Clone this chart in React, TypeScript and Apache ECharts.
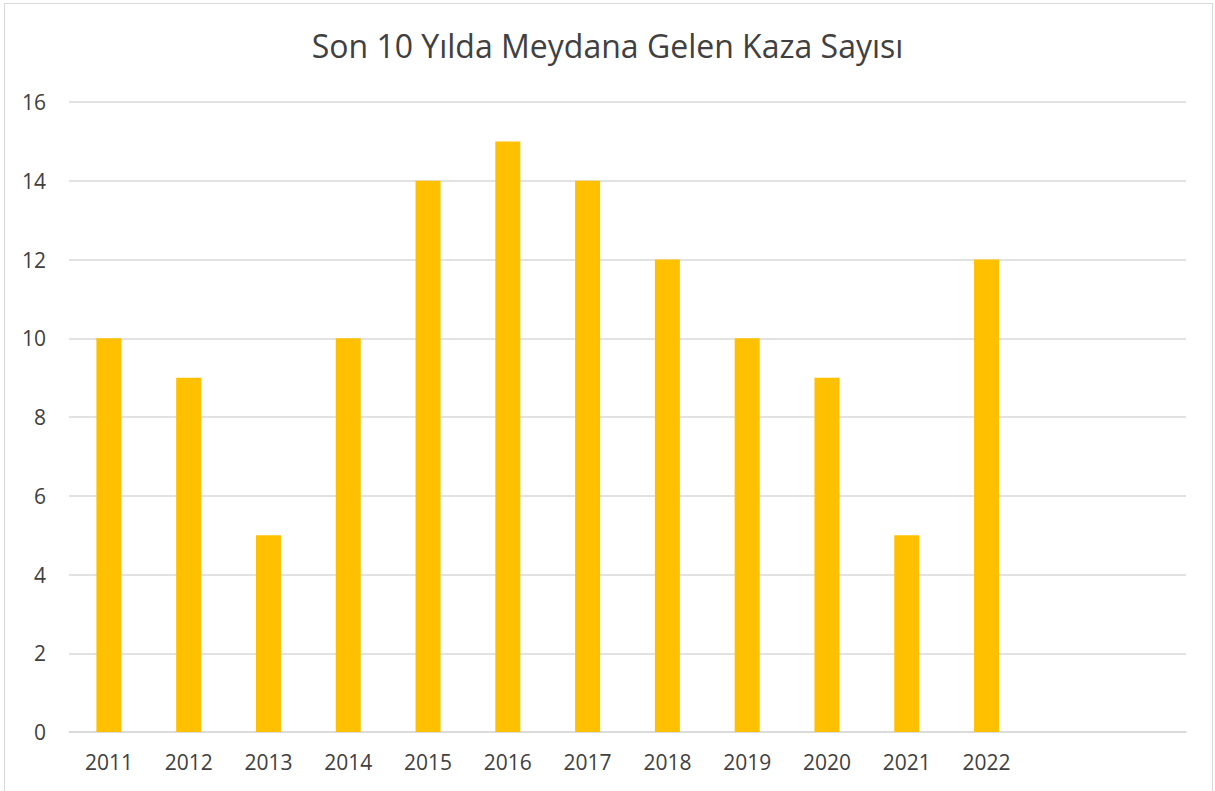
import React, { useEffect, useRef } from "react";
import * as echarts from "echarts";

const title = "Son 10 Yılda Meydana Gelen Kaza Sayısı";
const years = ["2011", "2012", "2013", "2014", "2015", "2016", "2017", "2018", "2019", "2020", "2021", "2022", "", " "];
const accidents: (number | null)[] = [10, 9, 5, 10, 14, 15, 14, 12, 10, 9, 5, 12, null, null];

export default function App() {
  const ref = useRef<HTMLDivElement>(null);
  useEffect(() => {
    if (!ref.current) return;
    const chart = echarts.init(ref.current, undefined, { renderer: "svg" });
    const font = "Open Sans";
    chart.setOption({
      animation: false,
      backgroundColor: "transparent",
      title: {
        text: title,
        left: "center",
        top: 24,
        textStyle: { fontFamily: font, fontSize: 32, fontWeight: "normal", color: "#404040" },
      },
      grid: { left: 69, right: 29, top: 102, bottom: 59, containLabel: false },
      xAxis: {
        type: "category",
        data: years,
        axisLine: { lineStyle: { color: "#d9d9d9", width: 1.5 } },
        axisTick: { show: false },
        axisLabel: { fontFamily: font, fontSize: 21, color: "#404040", margin: 19 },
      },
      yAxis: {
        type: "value",
        min: 0,
        max: 16,
        interval: 2,
        axisLine: { show: false },
        axisTick: { show: false },
        splitLine: { lineStyle: { color: "#d9d9d9", width: 1.5 } },
        axisLabel: { fontFamily: font, fontSize: 21, color: "#404040", margin: 23 },
      },
      series: [
        {
          type: "bar",
          data: accidents,
          barWidth: 25,
          itemStyle: { color: "#ffc000" },
        },
      ],
    });
    return () => chart.dispose();
  }, []);
  return (
    <div
      style={{
        position: "fixed",
        left: 0,
        top: 0,
        width: 1215,
        height: 791,
        background: "#fff",
      }}
    >
      <div
        style={{
          position: "absolute",
          left: 4,
          top: 3,
          width: 1209,
          height: 800,
          border: "1.5px solid #d9d9d9",
          boxSizing: "border-box",
        }}
      />
      <div ref={ref} style={{ position: "absolute", left: 0, top: 0, width: 1215, height: 791 }} />
    </div>
  );
}
